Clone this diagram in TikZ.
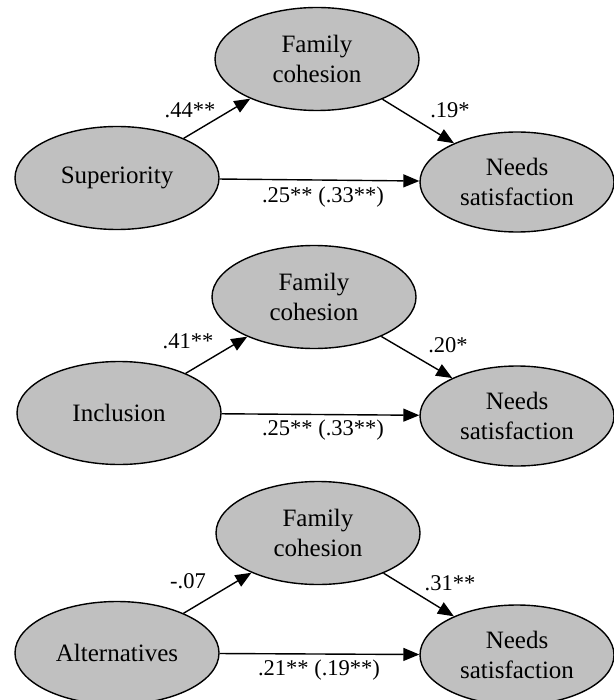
\documentclass[tikz,border=0pt]{standalone}
\usepackage{fontspec}
\setmainfont{Liberation Serif}
\usetikzlibrary{arrows.meta,shapes.geometric}
\definecolor{ovalgray}{RGB}{192,192,192}

\begin{document}
\begin{tikzpicture}[
  x=1pt, y=-1pt,
  var/.style={ellipse, draw, fill=ovalgray, line width=1.4pt, inner sep=0pt, align=center,
    minimum width=204pt, minimum height=103pt, font=\fontsize{25}{30}\selectfont},
  outc/.style={var, minimum width=194pt, minimum height=100pt},
  coef/.style={anchor=base, inner sep=0pt, font=\fontsize{22.5}{27}\selectfont},
  arrow/.style={-{Triangle[length=16pt,width=13pt]}, line width=1.4pt}
]
\useasboundingbox (0,0) rectangle (613,700);

% superiority
\node[var] (cohA) at (317,59) {Family\\cohesion};
\node[var] (supA) at (117,178) {Superiority};
\node[outc] (needA) at (517,182) {Needs\\satisfaction};

\draw[arrow] (supA) -- (cohA);
\draw[arrow] (cohA) -- (needA);
\draw[arrow] (supA) -- (needA);

\node[coef] (aA) at (190,118) {.44**};
\node[coef] (bA) at (450,118) {.19*};
\node[coef] (cA) at (323,203) {.25** (.33**)};

% inclusion
\node[var] (cohB) at (314,297) {Family\\cohesion};
\node[var] (incB) at (119,413) {Inclusion};
\node[outc] (needB) at (517,416) {Needs\\satisfaction};

\draw[arrow] (incB) -- (cohB);
\draw[arrow] (cohB) -- (needB);
\draw[arrow] (incB) -- (needB);

\node[coef] (aB) at (188,348) {.41**};
\node[coef] (bB) at (448,352) {.20*};
\node[coef] (cB) at (323,435) {.25** (.33**)};

% alternatives
\node[var] (cohC) at (318,533) {Family\\cohesion};
\node[var] (altC) at (117,653) {Alternatives};
\node[outc] (needC) at (517,655) {Needs\\satisfaction};

\draw[arrow] (altC) -- (cohC);
\draw[arrow] (cohC) -- (needC);
\draw[arrow] (altC) -- (needC);

\node[coef] (aC) at (188,588) {-.07};
\node[coef] (bC) at (450,590) {.31**};
\node[coef] (cC) at (319,675) {.21** (.19**)};

\end{tikzpicture}
\end{document}
